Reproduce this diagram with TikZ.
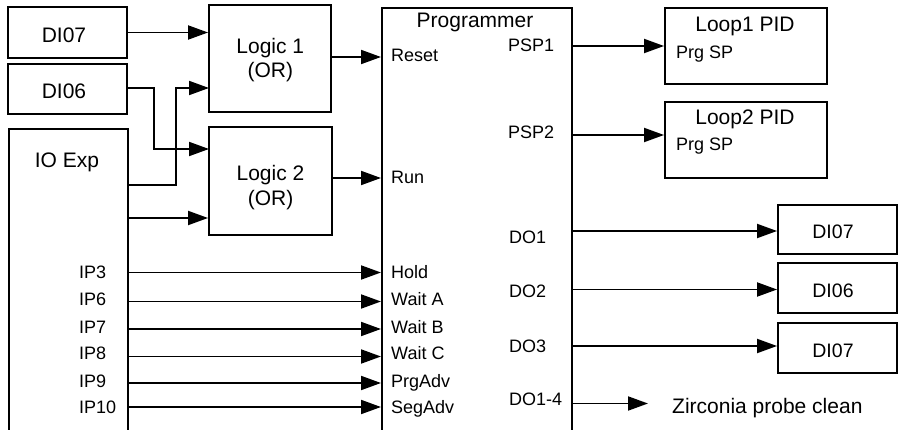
\documentclass[tikz,border=0pt]{standalone}
\usepackage{fontspec}
\setmainfont{Liberation Sans}
\usetikzlibrary{arrows.meta,calc}
\begin{document}
\begin{tikzpicture}[x=1pt,y=-1pt,
  box/.style={draw, line width=1.9pt, inner sep=0pt},
  arr/.style={line width=1.9pt, -{Triangle[length=20pt,width=14pt]}},
  big/.style={font=\fontsize{21}{24}\selectfont, inner sep=0pt},
  mid/.style={font=\fontsize{19.5}{23}\selectfont, inner sep=0pt},
  small/.style={font=\fontsize{18}{21}\selectfont, inner sep=0pt}]
\clip (0,0) rectangle (907,430);
% left boxes
\node[box, minimum width=119pt, minimum height=51pt] (diL7) at (67.5,32.5) {};
\node[box, minimum width=119pt, minimum height=50pt] (diL6) at (67.5,89) {};
\node[box, minimum width=119pt, minimum height=330pt, anchor=north west] (ioexp) at (8,128) {};
\node[big, anchor=base] (tdiL7) at (64,42.7) {DI07};
\node[big, anchor=base] (tdiL6) at (64,99) {DI06};
\node[big, anchor=base] (tio) at (67,168) {IO Exp};
% logic boxes
\node[box, minimum width=122pt, minimum height=107pt] (logic1) at (270,58.5) {};
\node[box, minimum width=123pt, minimum height=108pt] (logic2) at (270.5,181) {};
\node[big, anchor=base] (tl1a) at (270.3,53.3) {Logic 1};
\node[big, anchor=base] (tl1b) at (270.3,77.7) {(OR)};
\node[big, anchor=base] (tl2a) at (270.5,180.7) {Logic 2};
\node[big, anchor=base] (tl2b) at (270.5,205.7) {(OR)};
% programmer
\node[box, minimum width=190pt, minimum height=440pt, anchor=north west] (prog) at (381,7) {};
\node[big, anchor=base] (tprog) at (475,28) {Programmer};
\node[small, anchor=base west] (treset) at (391,62) {Reset};
\node[small, anchor=base west] (trun) at (391,184) {Run};
\node[small, anchor=base west] (tpsp1) at (508,52) {PSP1};
\node[small, anchor=base west] (tpsp2) at (508,139) {PSP2};
\node[small, anchor=base west] (tdo1) at (509,244) {DO1};
\node[small, anchor=base west] (tdo2) at (509,298) {DO2};
\node[small, anchor=base west] (tdo3) at (509,352) {DO3};
\node[small, anchor=base west] (tdo4) at (509,405) {DO1-4};
% loops
\node[box, minimum width=162pt, minimum height=76pt] (loop1) at (746,46) {};
\node[box, minimum width=162pt, minimum height=76pt] (loop2) at (746,140) {};
\node[big, anchor=base] (tloop1) at (745,32) {Loop1 PID};
\node[small, anchor=base west] (tsp1) at (676,58.5) {Prg SP};
\node[big, anchor=base] (tloop2) at (745,125) {Loop2 PID};
\node[small, anchor=base west] (tsp2) at (676,150.5) {Prg SP};
% right DI boxes
\node[box, minimum width=119pt, minimum height=49pt] (diR1) at (837.5,229.5) {};
\node[box, minimum width=119pt, minimum height=50pt] (diR2) at (837.5,288) {};
\node[box, minimum width=119pt, minimum height=50pt] (diR3) at (837.5,348) {};
\node[mid, anchor=base] (tdiR1) at (833,239) {DI07};
\node[mid, anchor=base] (tdiR2) at (833,298) {DI06};
\node[mid, anchor=base] (tdiR3) at (833,357) {DI07};
\node[big, anchor=base west] (tzir) at (672,413) {Zirconia probe clean};
% coordinates
\coordinate (ioA) at (127,185);
\coordinate (ioB) at (127,218);
\coordinate (l1in2) at (209,88);
\coordinate (l2in1) at (209,149);
\coordinate (pReset) at (381,57);
\coordinate (pRun) at (381,178);
\coordinate (zEnd) at (648,403.5);
% left connectors
\draw[arr] (diL7.east) -- (diL7.east -| logic1.west);
\draw[arr] (diL6.east |- 0,88) -- (154,88) |- (l2in1);
\draw[arr] (ioA) -- (176,185) |- (l1in2);
\draw[arr] (ioB) -- (ioB -| logic2.west);
\draw[arr] (logic1.east |- pReset) -- (pReset);
\draw[arr] (logic2.east |- pRun) -- (pRun);
% IP lines
\foreach \n/\yl/\yb/\lab in {3/272.5/278.5/Hold, 6/301.5/305.5/Wait A, 7/329/333/Wait B, 8/356.5/359.5/Wait C, 9/383/387/PrgAdv, 10/407/413/SegAdv}{
  \node[small, anchor=base west] (ip\n) at (79,\yb) {IP\n};
  \node[small, anchor=base west] (in\n) at (391,\yb) {\lab};
  \draw[arr] (ioexp.east |- 0,\yl) -- (prog.west |- 0,\yl);
}
% right connectors
\draw[arr] (prog.east |- loop1.west) -- (loop1.west);
\draw[arr] (prog.east |- 0,135) -- (loop2.west |- 0,135);
\draw[arr] (prog.east |- 0,231) -- (diR1.west |- 0,231);
\draw[arr] (prog.east |- 0,289.5) -- (diR2.west |- 0,289.5);
\draw[arr] (prog.east |- 0,346) -- (diR3.west |- 0,346);
\draw[arr] (prog.east |- zEnd) -- (zEnd);
\end{tikzpicture}
\end{document}
